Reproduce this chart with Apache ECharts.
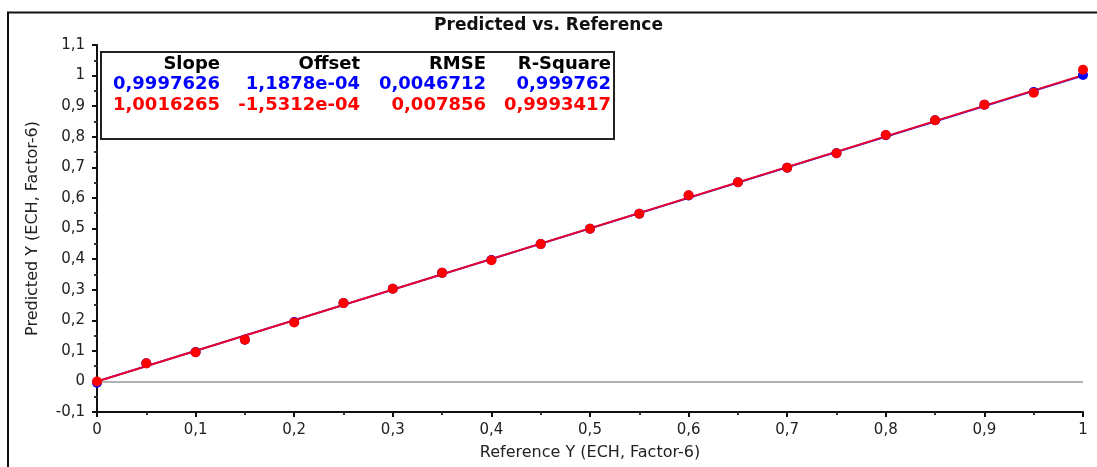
<!DOCTYPE html>
<html>
<head>
<meta charset="utf-8">
<style>
  html, body { margin: 0; padding: 0; background: #ffffff; }
  #chart { width: 1097px; height: 467px; }
</style>
<script src="https://cdn.jsdelivr.net/npm/echarts@6/dist/echarts.min.js"></script>
</head>
<body>
<div id="chart"></div>
<script>
// ---- data ----
const titleText = 'Predicted vs. Reference';
const xAxisName = 'Reference Y (ECH, Factor-6)';
const yAxisName = 'Predicted Y (ECH, Factor-6)';

const referenceY = [0, 0.05, 0.1, 0.15, 0.2, 0.25, 0.3, 0.35, 0.4, 0.45, 0.5,
                    0.55, 0.6, 0.65, 0.7, 0.75, 0.8, 0.85, 0.9, 0.95, 1];
const predictedBlue = [-0.004, 0.059, 0.096, 0.136, 0.194, 0.256, 0.303, 0.355, 0.397, 0.449, 0.499,
                       0.548, 0.608, 0.651, 0.699, 0.746, 0.805, 0.854, 0.905, 0.946, 1.002];
const predictedRed = [0, 0.059, 0.095, 0.136, 0.193, 0.256, 0.303, 0.355, 0.396, 0.449, 0.499,
                      0.548, 0.609, 0.651, 0.699, 0.746, 0.806, 0.854, 0.905, 0.944, 1.019];

const statHeaders = ['Slope', 'Offset', 'RMSE', 'R-Square'];
const statsBlue = ['0,9997626', '1,1878e-04', '0,0046712', '0,999762'];
const statsRed  = ['1,0016265', '-1,5312e-04', '0,007856', '0,9993417'];
const slopeBlue = 0.9997626, offsetBlue = 1.1878e-04;
const slopeRed = 1.0016265, offsetRed = -1.5312e-04;
const fitRange = [0, 1];

// ---- chart ----
const chart = echarts.init(document.getElementById('chart'), null, { renderer: 'canvas' });
const fmt = v => String(Math.round(v * 100) / 100).replace('.', ',');
const pts = (xs, ys) => xs.map((x, i) => [x, ys[i]]);
const fit = (s, o) => fitRange.map(x => [x, s * x + o]);

const AXFONT = 'DejaVu Sans';
const axisCommon = {
  axisLine: { show: true, onZero: false, lineStyle: { color: '#111', width: 2 } },
  axisTick: { show: true, length: 5, lineStyle: { color: '#111', width: 2 } },
  minorTick: { show: true, splitNumber: 2, length: 3, lineStyle: { color: '#333', width: 2 } },
  splitLine: { show: false },
  minorSplitLine: { show: false },
  nameLocation: 'middle',
  nameTextStyle: { fontFamily: AXFONT, fontSize: 16, color: '#222' },
};

const colX = [220, 360, 486, 611];
const rowY = [64, 84, 105];
const statTexts = [];
[[statHeaders, '#000000'], [statsBlue, '#0000ff'], [statsRed, '#ff0000']].forEach((row, r) => {
  row[0].forEach((t, c) => {
    statTexts.push({
      type: 'text', x: colX[c], y: rowY[r], z: 100,
      style: { text: t, align: 'right', verticalAlign: 'middle',
               font: 'bold 18px "DejaVu Sans"', fill: row[1] }
    });
  });
});

const option = {
  backgroundColor: '#ffffff',
  animation: false,
  title: {
    text: titleText, left: 'center', top: 12,
    textStyle: { fontFamily: AXFONT, fontWeight: 'bold', fontSize: 17, color: '#111', lineHeight: 18 }
  },
  grid: { left: 97, right: 14, top: 45, bottom: 55, containLabel: false },
  xAxis: Object.assign({}, axisCommon, {
    type: 'value', min: 0, max: 1, interval: 0.1,
    name: xAxisName, nameGap: 33,
    axisLabel: { formatter: fmt, margin: 11, fontFamily: AXFONT, fontSize: 15, color: '#222' }
  }),
  yAxis: Object.assign({}, axisCommon, {
    type: 'value', min: -0.1, max: 1.1, interval: 0.1,
    name: yAxisName, nameGap: 56,
    axisLabel: { formatter: fmt, margin: 12, fontFamily: AXFONT, fontSize: 15, color: '#222' }
  }),
  series: [
    {
      type: 'line', data: fit(slopeBlue, offsetBlue), symbol: 'none', z: 2,
      lineStyle: { color: '#2a2aff', width: 2 },
      markLine: {
        silent: true, symbol: 'none', label: { show: false },
        lineStyle: { color: '#999999', width: 1.5, type: 'solid' },
        data: [{ yAxis: 0 }]
      }
    },
    {
      type: 'line', data: fit(slopeRed, offsetRed), symbol: 'none', z: 3,
      lineStyle: { color: '#e8002a', width: 2 }
    },
    {
      type: 'scatter', data: pts(referenceY, predictedBlue), symbolSize: 10, z: 4,
      itemStyle: { color: '#0000ff', opacity: 1 }
    },
    {
      type: 'scatter', data: pts(referenceY, predictedRed), symbolSize: 10, z: 5,
      itemStyle: { color: '#ff0000', opacity: 1 }
    }
  ],
  graphic: [
    {
      type: 'polyline', z: 100,
      shape: { points: [[8, 467], [8, 12.5], [1097, 12.5]] },
      style: { stroke: '#111', lineWidth: 2, fill: null }
    },
    {
      type: 'rect', z: 99,
      shape: { x: 101, y: 52, width: 513, height: 87 },
      style: { fill: '#ffffff', stroke: '#222', lineWidth: 2 }
    }
  ].concat(statTexts)
};
chart.setOption(option);
</script>
</body>
</html>
